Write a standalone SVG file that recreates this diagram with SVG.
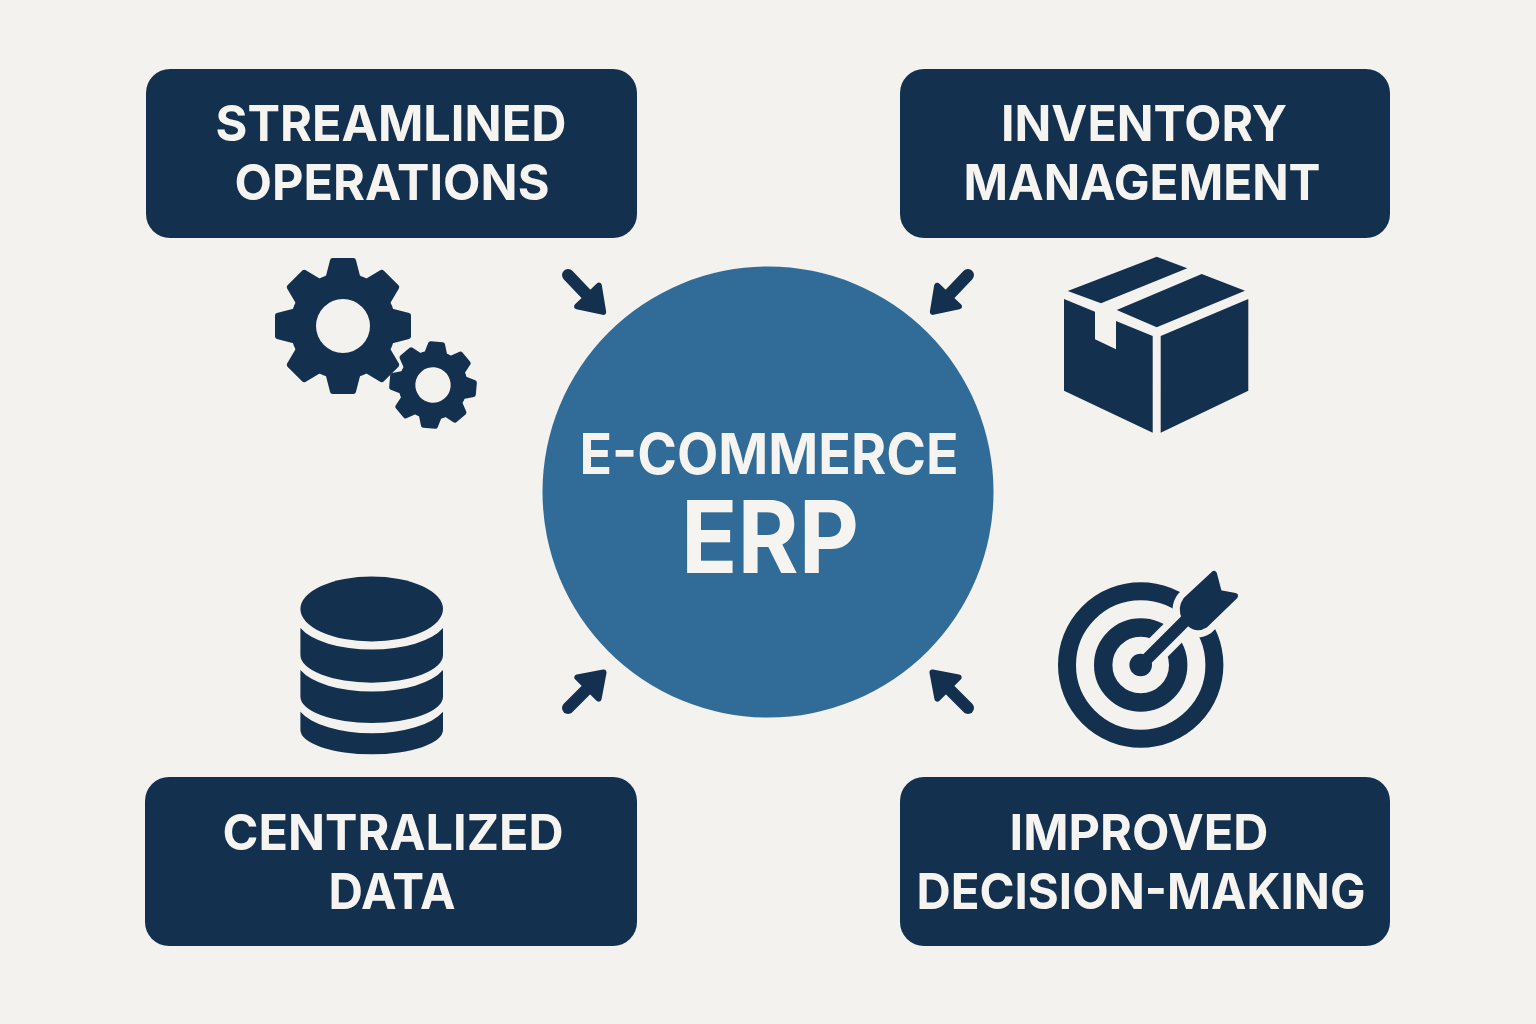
<svg xmlns="http://www.w3.org/2000/svg" width="1536" height="1024" viewBox="0 0 1536 1024">
<style>
.bg{fill:#f4f2ee}
.box{fill:#14304f}
.dark{fill:#14304f}
.t{font-family:Inter,"Liberation Sans",sans-serif;font-weight:700;font-size:50px;fill:#f6f4f0;text-anchor:middle}
.arrow{stroke:#14304f;stroke-width:12;stroke-linecap:round;fill:none;marker-end:url(#head)}
.tooth{stroke:#14304f;stroke-width:5;stroke-linejoin:round}
</style>
<defs>
<marker id="head" markerUnits="userSpaceOnUse" markerWidth="44" markerHeight="48" refX="2" refY="24" orient="auto" overflow="visible">
<path d="M2 9L24 24L2 39Z" fill="#14304f" stroke="#14304f" stroke-width="6" stroke-linejoin="round"/>
</marker>
<path id="g1t" class="tooth" d="M-14.500 -50L-10.500 -65.500L10.500 -65.500L14.500 -50Z"/>
<path id="g2t" class="tooth" d="M-9 -31L-6 -41L6 -41L9 -31Z"/>
</defs>
<rect class="bg" width="1536" height="1024"/>
<g id="hub">
<circle cx="768" cy="492" r="225.500" fill="#316b98"/>
<text x="769" y="474" class="t" style="font-size:57px" textLength="379" lengthAdjust="spacingAndGlyphs">E-COMMERCE</text>
<text x="770" y="573" class="t" style="font-size:100px" textLength="178" lengthAdjust="spacingAndGlyphs">ERP</text>
</g>
<g id="connectors">
<line class="arrow" x1="568" y1="275" x2="588" y2="296"/>
<line class="arrow" x1="968" y1="275" x2="948" y2="296"/>
<line class="arrow" x1="568" y1="708" x2="588" y2="688"/>
<line class="arrow" x1="968" y1="708" x2="948" y2="688"/>
</g>
<g id="streamlined-operations">
<rect class="box" x="146" y="69" width="491" height="169" rx="24"/>
<text x="391" y="141" class="t" textLength="351" lengthAdjust="spacingAndGlyphs">STREAMLINED</text>
<text x="392" y="200" class="t" textLength="315" lengthAdjust="spacingAndGlyphs">OPERATIONS</text>
</g>
<g id="inventory-management">
<rect class="box" x="900" y="69" width="490" height="169" rx="24"/>
<text x="1144" y="141" class="t" textLength="286" lengthAdjust="spacingAndGlyphs">INVENTORY</text>
<text x="1142" y="200" class="t" textLength="357" lengthAdjust="spacingAndGlyphs">MANAGEMENT</text>
</g>
<g id="centralized-data">
<rect class="box" x="145" y="777" width="492" height="169" rx="24"/>
<text x="393" y="849.500" class="t" textLength="341" lengthAdjust="spacingAndGlyphs">CENTRALIZED</text>
<text x="392" y="908.500" class="t" textLength="127" lengthAdjust="spacingAndGlyphs">DATA</text>
</g>
<g id="improved-decision-making">
<rect class="box" x="900" y="777" width="490" height="169" rx="24"/>
<text x="1139" y="849.500" class="t" textLength="259" lengthAdjust="spacingAndGlyphs">IMPROVED</text>
<text x="1141" y="908.500" class="t" textLength="449" lengthAdjust="spacingAndGlyphs">DECISION-MAKING</text>
</g>
<g id="gears" class="dark">
<g transform="translate(343 326)">
<circle r="53"/>
<use href="#g1t"/><use href="#g1t" transform="rotate(45)"/><use href="#g1t" transform="rotate(90)"/><use href="#g1t" transform="rotate(135)"/><use href="#g1t" transform="rotate(180)"/><use href="#g1t" transform="rotate(225)"/><use href="#g1t" transform="rotate(270)"/><use href="#g1t" transform="rotate(315)"/>
<circle r="27" class="bg"/>
</g>
<g transform="translate(433 385) rotate(5)">
<circle r="34.500"/>
<use href="#g2t"/><use href="#g2t" transform="rotate(45)"/><use href="#g2t" transform="rotate(90)"/><use href="#g2t" transform="rotate(135)"/><use href="#g2t" transform="rotate(180)"/><use href="#g2t" transform="rotate(225)"/><use href="#g2t" transform="rotate(270)"/><use href="#g2t" transform="rotate(315)"/>
<circle r="17.700" class="bg"/>
</g>
</g>
<g id="box-icon" class="dark">
<path d="M1067.700 291L1156.700 256.700L1187.300 268.300L1101 303.300Z"/>
<path d="M1201.700 274L1245 290.700L1156.700 327.300L1116.700 310Z"/>
<path d="M1064 299L1095 311.700L1095 339.300L1116 349.300L1116 321L1152.700 336L1152.700 432.700L1064 390.700Z"/>
<path d="M1160.700 336L1248.300 299L1248.300 390.700L1160.700 432.700Z"/>
</g>
<g id="database-icon" class="dark">
<ellipse cx="371.700" cy="609" rx="71.300" ry="32.500"/>
<path d="M300.400 628A76 33 0 0 0 443 628L443 655A71.300 27.700 0 0 1 300.400 655Z"/>
<path d="M300.400 670A76 33 0 0 0 443 670L443 696.700A71.300 26.300 0 0 1 300.400 696.700Z"/>
<path d="M300.400 711.700A76 33 0 0 0 443 711.700L443 730A71.300 24.300 0 0 1 300.400 730Z"/>
</g>
<g id="target-icon">
<circle cx="1140.700" cy="665" r="73.700" fill="none" stroke="#14304f" stroke-width="18"/>
<circle cx="1140.700" cy="665" r="37.500" fill="none" stroke="#14304f" stroke-width="18.400"/>
<line x1="1150" y1="656" x2="1195" y2="611" stroke="#f4f2ee" stroke-width="26"/>
<path d="M1214 574L1219 593L1235 596L1205 625Q1197 630 1190 624L1185 618Q1180 608 1186 600Z" fill="#f4f2ee" stroke="#f4f2ee" stroke-width="20" stroke-linejoin="round"/>
<circle cx="1140.700" cy="665" r="11.300" class="dark"/>
<line x1="1141" y1="665" x2="1195" y2="611" stroke="#14304f" stroke-width="12"/>
<path d="M1214 574L1219 593L1235 596L1205 625Q1197 630 1190 624L1185 618Q1180 608 1186 600Z" fill="#14304f" stroke="#14304f" stroke-width="6" stroke-linejoin="round"/>
</g>
</svg>
